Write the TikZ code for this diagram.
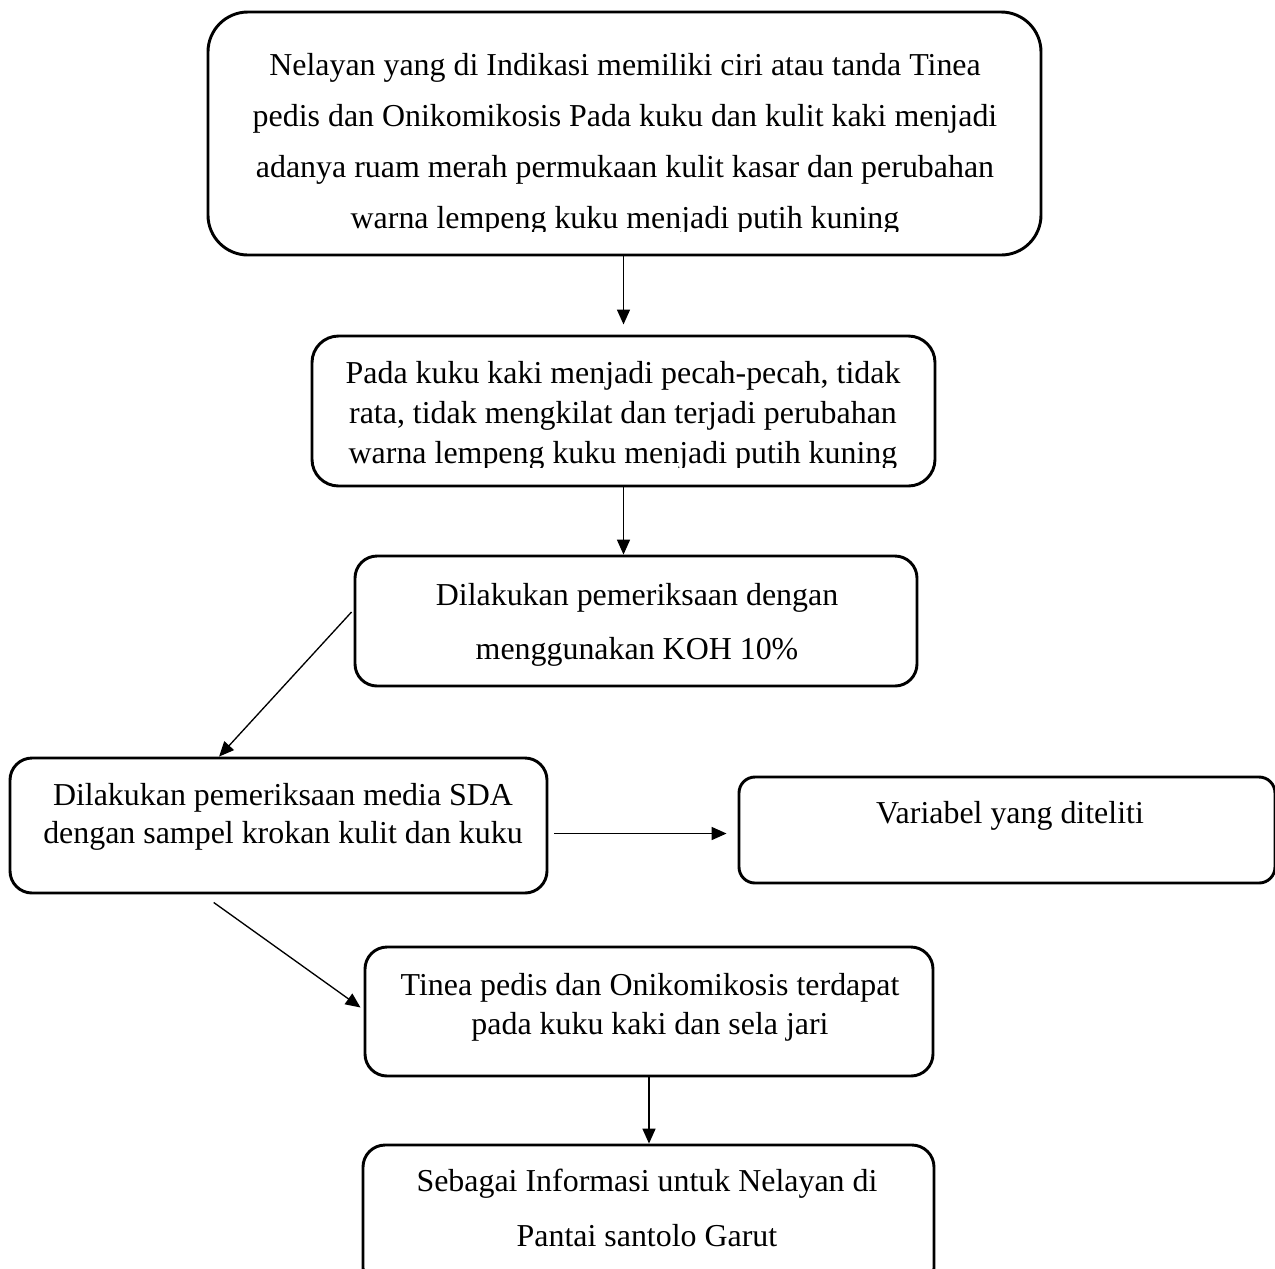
\documentclass[tikz,border=0pt]{standalone}
\usepackage{fontspec}
\setmainfont{Liberation Serif}
\usetikzlibrary{arrows.meta, positioning, fit, calc}

\tikzset{
  kotak/.style={draw, line width=1.1pt, rounded corners=8.3pt, inner sep=0pt},
  teks/.style={anchor=north, align=center, inner sep=0pt, font=\fontsize{12}{#1}\selectfont},
  panah/.style={-{Triangle[length=5.6pt,width=4.9pt]}, line width=0.5pt}
}

\begin{document}
\begin{tikzpicture}[x=0.376pt, y=-0.376pt]
  \useasboundingbox (0,0) rectangle (1275,1268);

  % kotak-kotak
  \node[kotak, rounded corners=15pt, fit={(208,12) (1041,255)}] (ciri) {};
  \node[kotak, rounded corners=10pt, fit={(312,336) (935,486)}] (kuku) {};
  \node[kotak, fit={(355,556) (917,686)}] (koh) {};
  \node[kotak, fit={(10,758) (547,893)}] (sda) {};
  \node[kotak, rounded corners=6pt, fit={(739,777) (1275,883)}] (variabel) {};
  \node[kotak, fit={(365,947) (933,1076)}] (hasil) {};
  \node[kotak, fit={(363,1145) (934,1290)}] (info) {};

  % teks (baris terakhir terpotong)
  \begin{scope}
    \clip (208,12) rectangle (1041,231);
    \node[teks=19.2pt] (ciri-teks) at (625,53) {Nelayan yang di Indikasi memiliki ciri atau tanda Tinea\\
      pedis dan Onikomikosis Pada kuku dan kulit kaki menjadi\\
      adanya ruam merah permukaan kulit kasar dan perubahan\\
      warna lempeng kuku menjadi putih kuning};
  \end{scope}
  \begin{scope}
    \clip (312,336) rectangle (935,467);
    \node[teks=15pt] (kuku-teks) at (623,361) {Pada kuku kaki menjadi pecah-pecah, tidak\\
      rata, tidak mengkilat dan terjadi perubahan\\
      warna lempeng kuku menjadi putih kuning};
  \end{scope}
  \node[teks=20.3pt] (koh-teks) at (637,583) {Dilakukan pemeriksaan dengan\\ menggunakan KOH 10\%};
  \node[teks=14.3pt] (sda-teks) at (283,783) {Dilakukan pemeriksaan media SDA\\ dengan sampel krokan kulit dan kuku};
  \node[teks=14pt] (variabel-teks) at (1010,801) {Variabel yang diteliti};
  \node[teks=14.7pt] (hasil-teks) at (650,973) {Tinea pedis dan Onikomikosis terdapat\\ pada kuku kaki dan sela jari};
  \node[teks=20.7pt] (info-teks) at (647,1168) {Sebagai Informasi untuk Nelayan di\\ Pantai santolo Garut};

  % panah
  \draw[panah, shorten >=3.8pt] (ciri.south -| kuku.north) -- (kuku.north);
  \draw[panah] (kuku.south) -- (kuku.south |- koh.north);
  \draw[panah] ($(koh.west)+(-2,-9)$) -- ($(sda.north west)!0.39!(sda.north east)$);
  \draw[panah] ($(sda.east)+(6,8)$) -- ($(sda.east -| variabel.west)+(-11,8)$);
  \draw[panah] ($(sda.south west)!0.38!(sda.south east)+(0,8)$) -- ($(hasil.west)+(-3,-4)$);
  \draw[panah] (hasil.south) -- (hasil.south |- info.north);
\end{tikzpicture}
\end{document}
